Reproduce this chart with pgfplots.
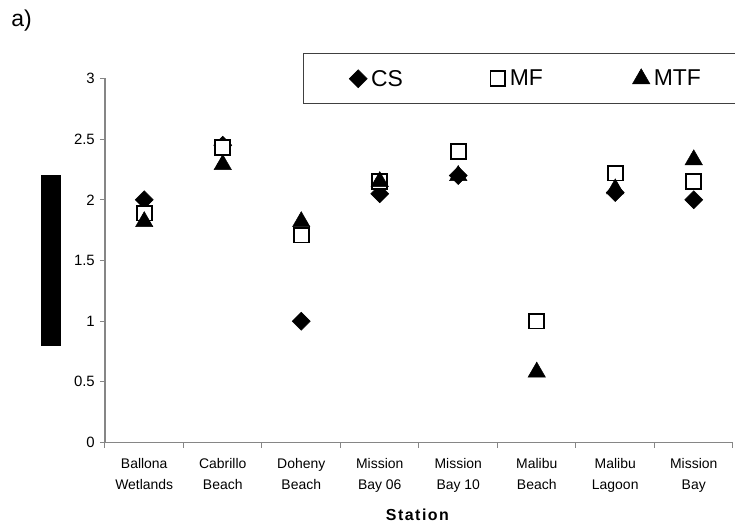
\documentclass[border=0pt]{standalone}
\usepackage{fontspec}
\setmainfont{Liberation Sans}
\usepackage{pgfplots}
\pgfplotsset{compat=1.18}
\definecolor{axgray}{RGB}{134,134,134}
\definecolor{legframe}{RGB}{64,64,64}

\begin{document}
\begin{tikzpicture}
\path[use as bounding box] (-105bp,-86.5bp) rectangle (630bp,442.5bp);
\begin{axis}[
  at={(0,0)}, anchor=south west,
  width=628bp, height=364bp, scale only axis,
  xmin=-0.5, xmax=7.5, ymin=0, ymax=3,
  axis x line=bottom, axis y line=left,
  axis line style={axgray, line width=1.2bp, -},
  tick align=outside,
  major tick length=5bp,
  tick style={axgray, line width=1bp},
  ytick={0,0.5,...,3},
  yticklabel style={font=\fontsize{15}{18}\selectfont, xshift=-1.7bp},
  /pgf/number format/assume math mode=true,
  xtick={-0.5,0.5,...,7.5},
  xticklabels={},
  extra x ticks={0,...,7},
  extra x tick labels={{Ballona\\Wetlands},{Cabrillo\\Beach},{Doheny\\Beach},{Mission\\Bay 06},{Mission\\Bay 10},{Malibu\\Beach},{Malibu\\Lagoon},{Mission\\Bay}},
  extra x tick style={major tick length=0pt},
  xticklabel style={align=center, font=\fontsize{14}{21}\selectfont, yshift=-12.5bp},
  xlabel={\textbf{S\kern1.5bp t\kern1.5bp a\kern1.5bp t\kern1.5bp i\kern1.5bp o\kern1.5bp n}},
  xlabel style={at={(axis description cs:0.4975,-0.2129)}, anchor=base, font=\fontsize{16}{19}\selectfont},
  ylabel={\rule{20bp}{170bp}},
  ylabel style={rotate=-90, at={(axis description cs:-0.086,0.5)}, anchor=center, inner sep=0pt},
  legend columns=3,
  legend image code/.code={\path[draw=none, fill=none] (-8bp,-8bp) rectangle (8bp,8bp); \draw[#1] plot coordinates {(0bp,0bp)};},
  legend style={at={(0.3148,1.070)}, anchor=north west, draw=legframe, line width=1bp,
    inner xsep=46bp, inner ysep=14.5bp, column sep=0pt,
    font=\fontsize{23}{27}\selectfont},
]
% CS
\addplot[only marks, mark=square*, mark size=6.36bp, mark options={rotate=45, fill=black, draw=black, line width=0.5bp}]
  coordinates {(0,2.00) (1,2.45) (2,1.00) (3,2.05) (4,2.20) (6,2.06) (7,2.00)};
% MF
\addplot[only marks, mark=square*, mark size=7.4bp, mark options={fill=white, draw=black, line width=1.8bp}]
  coordinates {(0,1.89) (1,2.43) (2,1.71) (3,2.15) (4,2.40) (5,1.00) (6,2.22) (7,2.15)};
% MTF
\addplot[only marks, mark=triangle*, mark size=10bp, mark options={fill=black, draw=black, line width=0.5bp}]
  coordinates {(0,1.82) (1,2.29) (2,1.82) (3,2.15) (4,2.20) (5,0.58) (6,2.09) (7,2.33)};
\legend{\makebox[118.7bp][l]{\hspace{2bp}CS}, \makebox[122.7bp][l]{\hspace{2bp}MF}, \makebox[117.7bp][l]{\hspace{2bp}MTF}}
\end{axis}
\node[font=\fontsize{23}{27}\selectfont, anchor=center] at (-83.5bp,421.5bp) {a)};
\end{tikzpicture}
\end{document}
